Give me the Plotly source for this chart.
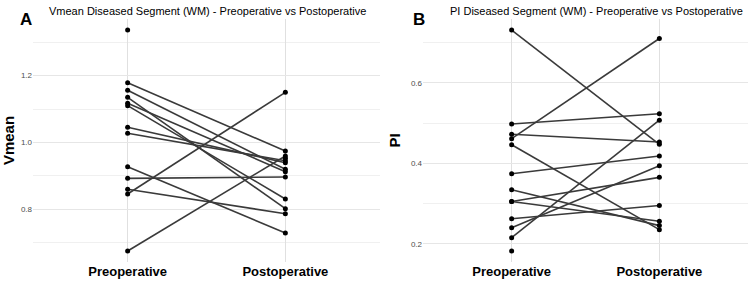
import plotly.graph_objects as go

groups = ["Preoperative", "Postoperative"]

# Panel A: Vmean (one entry per patient; None = missing)
vmean_pre = [1.337, 1.179, 1.156, 1.135, 1.117, 1.110, 1.045, 1.027, 0.927, 0.892, 0.859, 0.845, 0.674, None]
vmean_post = [None, 0.974, 0.919, 0.801, 0.912, 0.830, 0.939, 0.945, 0.728, 0.896, 0.786, 1.150, 0.959, 0.952]

# Panel B: PI
pi_pre = [0.731, 0.4975, 0.472, 0.461, 0.446, 0.374, 0.334, 0.305, 0.305, 0.262, 0.240, 0.215, 0.182]
pi_post = [0.447, 0.523, 0.453, 0.710, 0.235, 0.418, 0.245, 0.365, 0.256, 0.295, 0.394, 0.507, None]

titles = ["Vmean Diseased Segment (WM) - Preoperative vs Postoperative",
          "PI Diseased Segment (WM) - Preoperative vs Postoperative"]
ytitles = ["Vmean", "PI"]
panel_tags = ["A", "B"]

W, H = 752, 283
FONT = "Liberation Sans, Arial, sans-serif"


def segments(pre, post):
    xs, ys = [], []
    for a, b in zip(pre, post):
        xs += [1, 2, None]
        ys += [a, b, None]
    return xs, ys


fig = go.Figure()
for i, (pre, post) in enumerate([(vmean_pre, vmean_post), (pi_pre, pi_post)]):
    xs, ys = segments(pre, post)
    suffix = "" if i == 0 else "2"
    fig.add_trace(go.Scatter(
        x=xs, y=ys, mode="lines+markers",
        line=dict(color="#3a3a3a", width=1.6),
        marker=dict(color="black", size=5),
        connectgaps=False, showlegend=False,
        xaxis="x" + suffix, yaxis="y" + suffix, hoverinfo="skip"))


def ax_common():
    return dict(showline=False, zeroline=False, ticks="")


ydom = [(H - 262) / H, (H - 19) / H]
fig.update_layout(
    width=W, height=H, margin=dict(l=0, r=0, t=0, b=0),
    paper_bgcolor="white", plot_bgcolor="white",
    font=dict(family=FONT, color="black"),
    xaxis=dict(domain=[33 / W, 380 / W], range=[0.4, 2.6], tickvals=[1, 2],
               ticktext=["<b>%s</b>" % g for g in groups],
               showgrid=True, gridcolor="#e0e0e0", gridwidth=1,
               tickfont=dict(size=13, family=FONT, color="black"), **ax_common()),
    yaxis=dict(domain=ydom, range=[0.641, 1.370], tick0=0, dtick=0.2,
               showgrid=True, gridcolor="#e6e6e6", gridwidth=1,
               minor=dict(dtick=0.1, tick0=0, showgrid=True, gridcolor="#f0f0f0", gridwidth=1),
               tickfont=dict(size=8, color="#4d4d4d"), tickformat=".1f",
               title=dict(text="<b>Vmean</b>", font=dict(size=15), standoff=3), **ax_common()),
    xaxis2=dict(domain=[423 / W, 748 / W], range=[0.4, 2.6], tickvals=[1, 2],
                ticktext=["<b>%s</b>" % g for g in groups],
                showgrid=True, gridcolor="#e0e0e0", gridwidth=1, anchor="y2",
                tickfont=dict(size=13, family=FONT, color="black"), **ax_common()),
    yaxis2=dict(domain=ydom, range=[0.1546, 0.7585], tick0=0, dtick=0.2, anchor="x2",
                showgrid=True, gridcolor="#e6e6e6", gridwidth=1,
                minor=dict(dtick=0.1, tick0=0, showgrid=True, gridcolor="#f0f0f0", gridwidth=1),
                tickfont=dict(size=8, color="#4d4d4d"), tickformat=".1f",
                title=dict(text="<b>PI</b>", font=dict(size=15), standoff=6), **ax_common()),
)

annotations = [
    dict(x=47 / W, y=1 - 11 / H, text=titles[0], showarrow=False, xanchor="left", yanchor="middle",
         font=dict(size=11, family=FONT)),
    dict(x=448 / W, y=1 - 11 / H, text=titles[1], showarrow=False, xanchor="left", yanchor="middle",
         font=dict(size=11, family=FONT)),
    dict(x=26 / W, y=1 - 19 / H, text="<b>%s</b>" % panel_tags[0], showarrow=False, xanchor="center",
         yanchor="middle", font=dict(size=17, family=FONT)),
    dict(x=419 / W, y=1 - 19 / H, text="<b>%s</b>" % panel_tags[1], showarrow=False, xanchor="center",
         yanchor="middle", font=dict(size=17, family=FONT)),
]
for a in annotations:
    a.update(xref="paper", yref="paper")
fig.update_layout(annotations=annotations)

fig.write_html("out.html")
